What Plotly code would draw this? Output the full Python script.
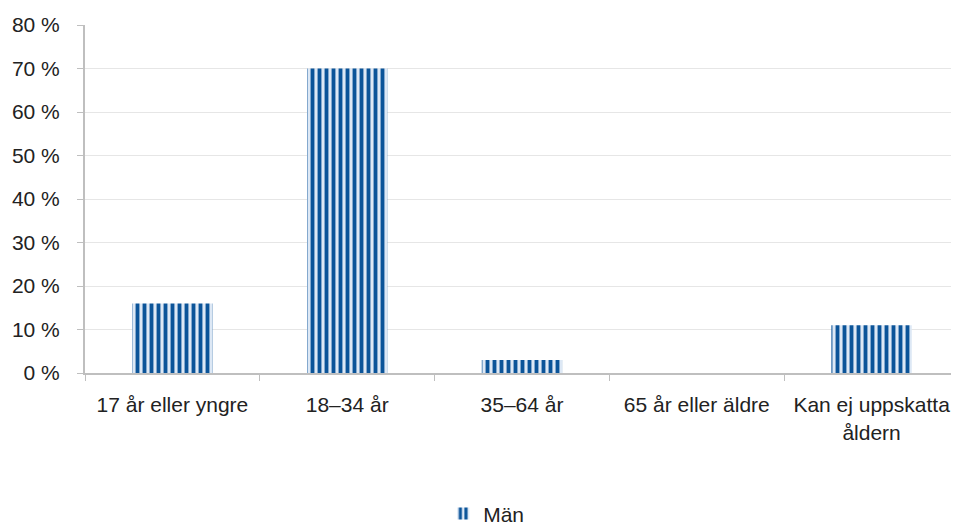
import plotly.graph_objects as go

categories = ["17 år eller yngre", "18–34 år", "35–64 år", "65 år eller äldre", "Kan ej uppskatta<br>åldern"]
man_values = [16, 70, 3, 0, 11]
tick_vals = [0, 10, 20, 30, 40, 50, 60, 70, 80]
tick_text = [f"{v} %" for v in tick_vals]

fig = go.Figure()
fig.add_trace(go.Bar(
    x=categories, y=man_values, name="Män",
    marker=dict(
        color="#dde8f5",
        line=dict(width=0),
        pattern=dict(shape="|", fgcolor="#0b5499", bgcolor="#dde8f5", size=7, solidity=0.55, fillmode="replace"),
    ),
))

fig.update_layout(
    width=959, height=529,
    margin=dict(l=77, r=8, t=17, b=164, autoexpand=False),
    plot_bgcolor="white", paper_bgcolor="white",
    font=dict(family="Liberation Sans, Arial, sans-serif", size=21, color="#222222"),
    bargap=0.54,
    showlegend=True,
    legend=dict(orientation="h", x=0.459, xanchor="center", y=-0.405, yanchor="middle",
                font=dict(size=21), itemwidth=30),
    xaxis=dict(
        automargin=False,
        showline=True, linecolor="#bfbfbf", linewidth=2,
        ticks="outside", tickson="boundaries", ticklen=6, tickcolor="#bfbfbf",
        ticklabelstandoff=12,
        showgrid=False,
    ),
    yaxis=dict(
        automargin=False,
        range=[0, 80], tickvals=tick_vals, ticktext=tick_text,
        showline=True, linecolor="#bfbfbf", linewidth=2,
        ticks="outside", ticklen=6, tickcolor="#bfbfbf",
        ticklabelstandoff=13,
        showgrid=True, gridcolor="#e6e6e6", gridwidth=1,
        zeroline=False,
    ),
)

fig.write_html("out.html")
